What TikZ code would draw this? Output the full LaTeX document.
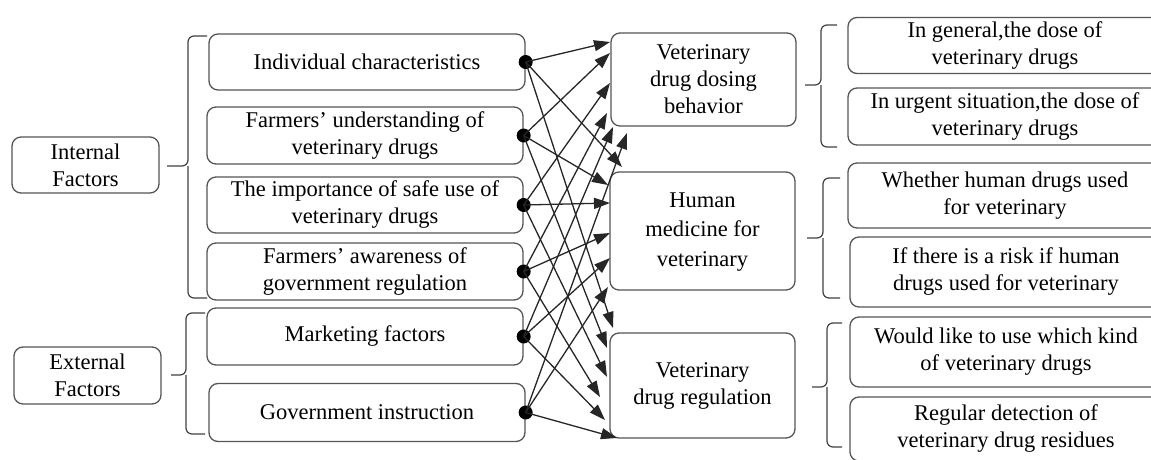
\documentclass[tikz,border=0pt]{standalone}
\usepackage{fontspec}
\setmainfont{Liberation Serif}
\usetikzlibrary{arrows.meta,calc}
\definecolor{boxgray}{HTML}{555555}
\definecolor{linegray}{HTML}{262626}
\definecolor{bracegray}{HTML}{404040}
\begin{document}
\begin{tikzpicture}[x=1pt,y=-1pt,
  box/.style={draw=boxgray,line width=1.3pt,rounded corners=9pt,align=center,inner sep=0pt,
    font=\fontsize{22.5}{27}\selectfont},
  dotnode/.style={circle,fill=black,inner sep=0pt,minimum size=14pt},
  arr/.style={draw=linegray,line width=1.3pt,-{Triangle[length=16pt,width=11pt]}},
  brace/.style={draw=bracegray,line width=1.2pt,rounded corners=6pt}]
\useasboundingbox (0,0) rectangle (1151,460);

% left group boxes
\node[box,minimum width=147pt,minimum height=56pt] (IF) at (85.5,165) {Internal\\Factors};
\node[box,minimum width=147pt,minimum height=57pt] (EF) at (87.5,375.5) {External\\Factors};

% source boxes
\node[box,minimum width=316pt,minimum height=56pt] (S1) at (367,62) {Individual characteristics};
\node[box,minimum width=316pt,minimum height=57pt] (S2) at (365,135.5) {Farmers’ understanding of\\veterinary drugs};
\node[box,minimum width=316pt,minimum height=56pt] (S3) at (365,205) {The importance of safe use of\\veterinary drugs};
\node[box,minimum width=316pt,minimum height=57pt] (S4) at (365,271.5) {Farmers’ awareness of\\government regulation};
\node[box,minimum width=316pt,minimum height=57pt] (S5) at (365,336.5) {Marketing factors};
\node[box,minimum width=316pt,minimum height=58pt] (S6) at (367,412.5) {Government instruction};

% target boxes
\node[box,minimum width=185pt,minimum height=93pt] (T1) at (703.5,79.5) {Veterinary\\drug dosing\\behavior};
\node[box,minimum width=185pt,minimum height=118pt] (T2) at (702.5,231)
  {\raisebox{-10pt}{\renewcommand\arraystretch{1.1}\begin{tabular}{@{}c@{}}Human\\medicine for\\veterinary\end{tabular}}};
\node[box,minimum width=185pt,minimum height=105pt] (T3) at (702.5,385.5) {Veterinary\\drug regulation};

% right boxes (clipped by the page edge)
\node[box,minimum width=314pt,minimum height=56pt] (R1) at (1005,45.5) {In general,the dose of\\veterinary drugs};
\node[box,minimum width=314pt,minimum height=57pt] (R2) at (1005,116.5) {In urgent situation,the dose of\\veterinary drugs};
\node[box,minimum width=314pt,minimum height=65pt] (R3) at (1005,195.5) {Whether human drugs used\\for veterinary};
\node[box,minimum width=312pt,minimum height=70pt] (R4) at (1006,272) {If there is a risk if human\\drugs used for veterinary};
\node[box,minimum width=312pt,minimum height=70pt] (R5) at (1006,352) {Would like to use which kind\\of veterinary drugs};
\node[box,minimum width=312pt,minimum height=64pt] (R6) at (1006,429) {Regular detection of\\veterinary drug residues};

% braces
\draw[brace] (207,36) -- (188,36) -- (188,166) -- (167,166);
\draw[brace] (207,298) -- (188,298) -- (188,166);
\draw[brace] (205,313) -- (186,313) -- (186,375) -- (171,375);
\draw[brace] (205,434) -- (186,434) -- (186,375);
\draw[brace] (837,25) -- (821,25) -- (821,85) -- (805,85);
\draw[brace] (837,147) -- (821,147) -- (821,85);
\draw[brace] (840,178) -- (823,178) -- (823,238) -- (807,238);
\draw[brace] (840,298) -- (823,298) -- (823,238);
\draw[brace] (842,323) -- (827,323) -- (827,387) -- (812,387);
\draw[brace] (842,447) -- (827,447) -- (827,387);

% dots
\foreach \i in {1,...,6} \node[dotnode] (d\i) at (S\i.east) {};

% arrow end points
\coordinate (a11) at (610,42);  \coordinate (a21) at (610,53);  \coordinate (a31) at (610,83);
\coordinate (a41) at (607,113); \coordinate (a51) at (613,127); \coordinate (a61) at (627,133);
\coordinate (a12) at (622,167); \coordinate (a22) at (608,185); \coordinate (a32) at (610,203);
\coordinate (a42) at (610,233); \coordinate (a52) at (610,258); \coordinate (a62) at (608,287);
\coordinate (a13) at (613,328); \coordinate (a23) at (607,348); \coordinate (a33) at (607,377);
\coordinate (a43) at (600,397); \coordinate (a53) at (605,420); \coordinate (a63) at (617,438);

\foreach \i in {1,...,6} \foreach \j in {1,2,3} \draw[arr] (d\i.center) -- (a\i\j);
\end{tikzpicture}
\end{document}
